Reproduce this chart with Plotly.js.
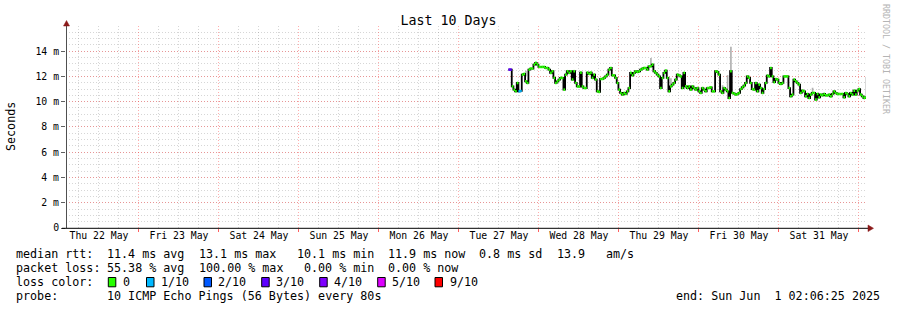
<!DOCTYPE html>
<html>
<head>
<meta charset="utf-8">
<script src="https://cdn.plot.ly/plotly-3.0.1.min.js"></script>
<style>
  html, body { margin: 0; padding: 0; background: #ffffff; }
  #chart { width: 897px; height: 310px; }
</style>
</head>
<body>
<div id="chart"></div>
<script>
// ---------------- data ----------------
const chartTitle = 'Last 10 Days';
const yAxisTitle = 'Seconds';
const rangeStart = '2025-05-22 02:06:25';
const rangeEnd = '2025-06-01 02:06:25';
const dayLabels = ['Thu 22 May', 'Fri 23 May', 'Sat 24 May', 'Sun 25 May', 'Mon 26 May',
                   'Tue 27 May', 'Wed 28 May', 'Thu 29 May', 'Fri 30 May', 'Sat 31 May'];
const dayNoons = ['2025-05-22 12:00', '2025-05-23 12:00', '2025-05-24 12:00', '2025-05-25 12:00',
                  '2025-05-26 12:00', '2025-05-27 12:00', '2025-05-28 12:00', '2025-05-29 12:00',
                  '2025-05-30 12:00', '2025-05-31 12:00'];
const yTickVals = [0, 2, 4, 6, 8, 10, 12, 14];
const yTickText = ['0', '2 m', '4 m', '6 m', '8 m', '10 m', '12 m', '14 m'];

// median rtt (ms), one sample every 30 minutes from firstSample
const firstSample = '2025-05-27 14:50:00';
const sampleStepMin = 30;
const medianMs = [
  12.54, 12.54, 11.21, 10.95, 10.82, 11.48, 10.82, 10.85, 12.14, 12.20,
  11.61, 11.48, 12.54, 12.62, 12.62, 12.94, 13.07, 12.94, 12.75, 12.75,
  12.75, 12.75, 12.67, 12.67, 12.54, 12.28, 12.41, 11.88, 11.48, 11.61,
  11.75, 11.88, 11.88, 10.95, 12.14, 12.41, 12.28, 12.41, 11.75, 12.41,
  11.48, 11.21,
  11.20, 12.30, 11.20, 11.08, 11.08, 12.30, 12.20, 12.30, 11.88, 12.14,
  11.75, 10.82, 10.77, 11.80, 11.80, 11.88, 12.00, 12.14, 12.54, 12.67,
  12.08, 12.08, 11.88, 11.48, 10.95, 10.69, 10.56, 10.69, 10.61, 10.82,
  11.08, 12.28, 12.08, 12.28, 12.41, 12.35, 12.41, 12.54, 12.62, 12.67,
  12.67, 12.54, 12.80, 12.80,
  12.94, 12.41, 12.28, 12.14, 12.00, 11.08, 11.88, 12.28, 12.46, 11.88,
  10.82, 11.21, 11.35, 11.48, 11.75, 12.14, 12.08, 12.00, 11.08, 12.28,
  11.21, 11.08, 11.21, 10.95, 11.21, 11.08, 10.95, 11.08, 10.82, 10.69,
  11.08, 10.95, 10.82, 11.08, 11.08, 11.13, 10.82, 10.82, 12.41, 12.35,
  12.14, 10.82, 10.69, 11.08,
  10.95, 10.82, 10.29, 12.41, 10.69, 10.64, 10.56, 10.61, 10.69, 11.00,
  11.14, 11.27, 11.48, 12.00, 11.88, 11.48, 11.00, 10.95, 11.48, 10.82,
  11.35, 11.08, 10.69, 11.00, 11.48, 12.06, 12.00, 12.67, 12.00, 11.54,
  11.80, 11.75, 11.48, 11.40, 11.48, 12.00, 12.00, 12.00, 11.08, 10.43,
  10.56, 11.75, 11.61, 11.48,
  11.35, 10.69, 10.87, 10.82, 10.42, 10.61, 10.29, 10.56, 10.69, 10.69,
  10.16, 10.61, 10.34, 10.56, 10.50, 10.61, 10.50, 10.50, 10.56, 10.42,
  10.61, 10.82, 10.69, 10.61, 10.61, 10.61, 10.61, 10.34, 10.69, 10.61,
  10.42, 10.69, 10.56, 10.87, 10.56, 10.87, 11.00, 10.56, 10.42, 10.29,
  10.34, 11.96
];
// samples with lost pings (index into medianMs, pings lost of 10)
const lossIndex = [0, 1, 6, 7];
const lossPings = [3, 3, 1, 1];
// smoke (spread of the pings) where it is visible
const smokeIndex = [10, 85, 97, 128, 131, 133, 182];
const smokeLow   = [12.00, 12.90, 11.20, 10.70, 10.95, 12.40, 10.75];
const smokeHigh  = [12.45, 13.45, 11.85, 11.30, 12.10, 14.35, 11.10];

const lossLevels = [0, 1, 2, 3, 4, 5, 9];
const lossLabels = ['0', '1/10', '2/10', '3/10', '4/10', '5/10', '9/10'];
const lossColors = ['#26ff00', '#00b8ff', '#0059ff', '#5e00ff', '#7e00ff', '#dd00ff', '#ff0000'];

const statsRtt = ['median rtt:', '11.4 ms avg', '13.1 ms max', '10.1 ms min', '11.9 ms now', '0.8 ms sd', '13.9', 'am/s'];
const statsLoss = ['packet loss:', '55.38 % avg', '100.00 % max', '0.00 % min', '0.00 % now'];
const probeLabel = 'probe:';
const probeText = '10 ICMP Echo Pings (56 Bytes) every 80s';
const endText = 'end: Sun Jun  1 02:06:25 2025';
const watermark = 'RRDTOOL / TOBI OETIKER';

// ---------------- build ----------------
const MONO = 'DejaVu Sans Mono, Liberation Mono, monospace';
const stepMs = sampleStepMin * 60000;
const t0 = Date.parse(firstSample.replace(' ', 'T') + 'Z');
const fmt = ms => new Date(ms).toISOString().slice(0, 19).replace('T', ' ');
const times = medianMs.map((_, i) => fmt(t0 + i * stepMs));
const timesNext = medianMs.map((_, i) => fmt(t0 + (i + 1) * stepMs));

function lossOf(i) {
  const k = lossIndex.indexOf(i);
  return k < 0 ? 0 : lossPings[k];
}

const traces = [];

// smoke
traces.push({
  type: 'bar',
  x: smokeIndex.map(i => times[i]),
  y: smokeIndex.map((i, k) => smokeHigh[k] - smokeLow[k]),
  base: smokeLow,
  width: smokeIndex.map(() => stepMs),
  offset: 0,
  marker: { color: 'rgba(150,150,150,0.75)', line: { width: 0 } },
  hoverinfo: 'skip',
  showlegend: false
});

// black median step line
traces.push({
  type: 'scatter', mode: 'lines',
  x: times, y: medianMs,
  line: { color: '#000000', width: 1.8, shape: 'hv' },
  hoverinfo: 'skip', showlegend: false
});

// coloured median segments by loss level
lossLevels.forEach((lvl, li) => {
  const xs = [], ys = [];
  medianMs.forEach((v, i) => {
    if (lossOf(i) === lvl) {
      xs.push(times[i], timesNext[i], null);
      ys.push(v, v, null);
    }
  });
  if (xs.length) {
    traces.push({
      type: 'scatter', mode: 'lines', x: xs, y: ys,
      line: { color: lossColors[li], width: 2.6 },
      connectgaps: false, hoverinfo: 'skip', showlegend: false
    });
  }
});

// dummy trace for the label axis
traces.push({ type: 'scatter', mode: 'lines', x: [rangeStart], y: [null], xaxis: 'x2', yaxis: 'y', hoverinfo: 'skip', showlegend: false });

// pixel -> paper helpers (plot area: x 66..866, y 26..228)
const L = 66, W = 800, B = 228, H = 202;
const px = p => (p - L) / W;
const py = p => (B - p) / H;
const nb = s => s.replace(/ /g, '\u00a0');

const annotations = [];
function txt(x, y, text, opts) {
  annotations.push(Object.assign({
    xref: 'paper', yref: 'paper', x: px(x), y: py(y), text: nb(text),
    showarrow: false, xanchor: 'left', yanchor: 'middle', borderpad: 0,
    font: { family: MONO, size: 11.7, color: '#000000' }
  }, opts || {}));
}

const cw = 7.02, x0 = 15;
// stats line 1
const rttCols = [0, 13, 26, 40, 53, 66, 77, 84];
statsRtt.forEach((s, k) => txt(x0 + rttCols[k] * cw, 254.3, s));
const lossCols = [0, 13, 26, 41, 53];
statsLoss.forEach((s, k) => txt(x0 + lossCols[k] * cw, 268.3, s));
txt(x0, 282.3, 'loss color:');
const boxX = [108.3, 146.5, 204, 261.7, 319.7, 377.7, 435];
const labX = [122.3, 159.7, 217.3, 275, 333, 391, 449];
const shapes = [];
lossLabels.forEach((s, k) => {
  txt(labX[k], 282.3, s);
  shapes.push({
    type: 'rect', xref: 'paper', yref: 'paper',
    x0: px(boxX[k]), x1: px(boxX[k] + 7.5), y0: py(286.8), y1: py(277.5),
    fillcolor: lossColors[k], line: { color: '#000000', width: 1 }
  });
});
txt(x0, 296.3, probeLabel);
txt(x0 + 13 * cw, 296.3, probeText);
txt(881, 296.3, endText, { xanchor: 'right' });

// y axis title
txt(11, 126, yAxisTitle, { xanchor: 'center', textangle: -90 });
// watermark
txt(886, 59, watermark, { xanchor: 'center', textangle: 90, font: { family: MONO, size: 8.3, color: '#b4b4b4' } });

// axis lines and arrows
shapes.push({ type: 'line', xref: 'paper', yref: 'paper', x0: px(66.5), x1: px(66.5), y0: py(228), y1: py(22), line: { color: '#505050', width: 1 } });
shapes.push({ type: 'line', xref: 'paper', yref: 'paper', x0: px(62), x1: px(869), y0: py(228.3), y1: py(228.3), line: { color: '#000000', width: 1 } });
shapes.push({ type: 'path', xref: 'paper', yref: 'paper',
  path: `M ${px(63.5)} ${py(26)} L ${px(69.5)} ${py(26)} L ${px(66.5)} ${py(20.5)} Z`,
  fillcolor: '#8b1a1a', line: { color: '#8b1a1a', width: 0.5 } });
shapes.push({ type: 'path', xref: 'paper', yref: 'paper',
  path: `M ${px(868)} ${py(225)} L ${px(868)} ${py(231.6)} L ${px(873.5)} ${py(228.3)} Z`,
  fillcolor: '#8b1a1a', line: { color: '#8b1a1a', width: 0.5 } });

const RED = 'rgba(255,60,60,0.42)';
const GREY = 'rgba(120,120,120,0.30)';

const layout = {
  width: 897, height: 310, autosize: false,
  paper_bgcolor: '#ffffff', plot_bgcolor: '#ffffff',
  margin: { l: L, r: 897 - L - W, t: 26, b: 310 - B, pad: 0 },
  showlegend: false,
  barmode: 'overlay',
  title: { text: chartTitle, x: 0.5, xref: 'container', xanchor: 'center',
           y: 1 - 20 / 310, yref: 'container', yanchor: 'middle',
           font: { family: MONO, size: 13.3, color: '#000000' } },
  xaxis: {
    type: 'date', range: [rangeStart, rangeEnd],
    tickmode: 'linear', tick0: '2025-05-22 00:00', dtick: 86400000,
    showticklabels: false, ticks: 'outside', ticklen: 3, tickcolor: '#ff6060', tickwidth: 1,
    showgrid: true, gridcolor: RED, griddash: '1px,2px', gridwidth: 1,
    minor: { tickmode: 'linear', tick0: '2025-05-22 00:00', dtick: 6 * 3600000,
             showgrid: true, gridcolor: GREY, griddash: '1px,2px', gridwidth: 1, ticks: '' },
    showline: false, zeroline: false, fixedrange: true
  },
  xaxis2: {
    type: 'date', range: [rangeStart, rangeEnd], overlaying: 'x', anchor: 'y', side: 'bottom',
    tickmode: 'array', tickvals: dayNoons, ticktext: dayLabels,
    ticks: '', ticklen: 0, showgrid: false, showline: false, zeroline: false,
    tickfont: { family: MONO, size: 9.8, color: '#000000' }, fixedrange: true
  },
  yaxis: {
    range: [0, 15.99], tickmode: 'array', tickvals: yTickVals, ticktext: yTickText,
    ticks: 'outside', ticklen: 4, tickcolor: '#606060',
    showgrid: true, gridcolor: RED, griddash: '1px,2px', gridwidth: 1,
    minor: { tickmode: 'linear', tick0: 0, dtick: 0.5, showgrid: true, gridcolor: GREY, griddash: '1px,2px', gridwidth: 1, ticks: '' },
    showline: false, zeroline: false, fixedrange: true,
    tickfont: { family: MONO, size: 9.8, color: '#000000' }
  },
  annotations: annotations,
  shapes: shapes
};

Plotly.newPlot('chart', traces, layout, { displayModeBar: false, staticPlot: true });
</script>
</body>
</html>
